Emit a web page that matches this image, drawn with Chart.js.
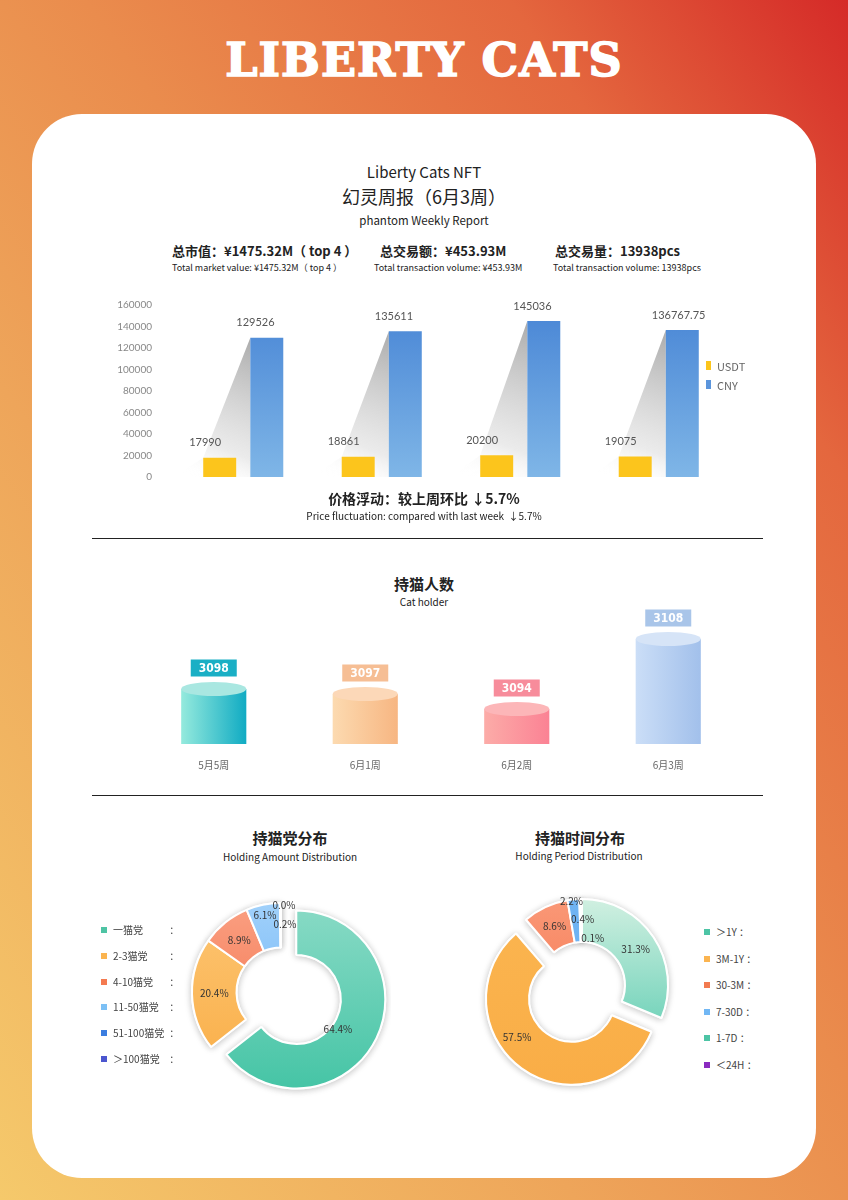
<!DOCTYPE html>
<html lang="zh">
<head>
<meta charset="utf-8">
<title>Liberty Cats 幻灵周报</title>
<script src="https://cdn.jsdelivr.net/npm/chart.js@4.4.1/dist/chart.umd.min.js"></script>
<style>
  html, body { margin: 0; padding: 0; }
  body {
    width: 848px; height: 1200px; position: relative; overflow: hidden;
    background: linear-gradient(to bottom left, #d52a28 0%, #e4673e 20%, #ea8c4d 45%, #eea55a 66%, #f5c96b 100%);
    font-family: 'Noto Sans CJK SC', Lato, sans-serif; color: #222;
  }
  .brand {
    position: absolute; left: 0; top: 33px; width: 848px; line-height: 60px;
    text-align: center; color: #fff; font: bold 46px 'DejaVu Serif', serif; letter-spacing: 1px;
    -webkit-text-stroke: 1.5px #fff;
  }
  .card { position: absolute; left: 32px; top: 114px; width: 784px; height: 1064px; background: #fff; border-radius: 50px; }
  .t { position: absolute; white-space: nowrap; line-height: 1; }
  .c { left: 0; width: 848px; text-align: center; }
  .rule { position: absolute; left: 92px; width: 671px; height: 1px; background: #222; }
  canvas { position: absolute; }
  .lg { position: absolute; font-size: 10px; color: #444; white-space: nowrap; line-height: 12px; }
  .lg i { display: inline-block; width: 6px; height: 6px; margin-right: 6px; vertical-align: 1px; }
  .lg b { display: inline-block; font-weight: normal; }
</style>
</head>
<body>
<div class="brand">LIBERTY CATS</div>
<div class="card"></div>

<div class="t c" style="top:164px;font-size:15px;">Liberty Cats NFT</div>
<div class="t c" style="top:187px;font-size:18px;">幻灵周报（6月3周）</div>
<div class="t c" style="top:215px;font-size:11.5px;">phantom Weekly Report</div>

<div class="t" style="left:172px;top:244px;font-size:13px;font-weight:bold;">总市值：¥1475.32M（ top 4 ）</div>
<div class="t" style="left:380px;top:244px;font-size:13px;font-weight:bold;">总交易额：¥453.93M</div>
<div class="t" style="left:555px;top:244px;font-size:13px;font-weight:bold;">总交易量：13938pcs</div>
<div class="t" style="left:172px;top:263px;font-size:9px;">Total market value: ¥1475.32M（ top 4 ）</div>
<div class="t" style="left:374px;top:263px;font-size:9px;">Total transaction volume: ¥453.93M</div>
<div class="t" style="left:553px;top:263px;font-size:9px;">Total transaction volume: 13938pcs</div>

<canvas id="volumeChart" width="630" height="228" style="left:110px;top:277px;"></canvas>
<div class="lg" style="left:706px;top:360px;font-size:11px;color:#666;"><i style="background:#fcc51c;width:5px;height:9px;"></i>USDT</div>
<div class="lg" style="left:706px;top:379px;font-size:11px;color:#666;"><i style="background:#5b95dc;width:5px;height:9px;"></i>CNY</div>

<div class="t c" style="top:491px;font-size:14px;font-weight:bold;">价格浮动：较上周环比 ↓5.7%</div>
<div class="t c" style="top:511px;font-size:10px;">Price fluctuation: compared with last week &nbsp;↓5.7%</div>

<div class="rule" style="top:538px;"></div>

<div class="t c" style="top:576px;font-size:15px;font-weight:bold;">持猫人数</div>
<div class="t c" style="top:597px;font-size:10px;">Cat holder</div>

<canvas id="holderChart" width="620" height="180" style="left:130px;top:600px;"></canvas>

<div class="rule" style="top:795px;"></div>

<div class="t" style="left:190px;width:200px;text-align:center;top:830px;font-size:15px;font-weight:bold;">持猫党分布</div>
<div class="t" style="left:190px;width:200px;text-align:center;top:852px;font-size:10px;">Holding Amount Distribution</div>
<div class="t" style="left:480px;width:200px;text-align:center;top:830px;font-size:15px;font-weight:bold;">持猫时间分布</div>
<div class="t" style="left:479px;width:200px;text-align:center;top:851px;font-size:10px;">Holding Period Distribution</div>

<canvas id="amountChart" width="220" height="220" style="left:171px;top:882px;"></canvas>
<canvas id="periodChart" width="220" height="220" style="left:472px;top:875px;"></canvas>
<div id="amountLegend"></div>
<div id="periodLegend"></div>

<script>
// ---- data ----
const weekLabels = ['5月5周', '6月1周', '6月2周', '6月3周'];
const usdtVolume = [17990, 18861, 20200, 19075];
const cnyVolume = [129526, 135611, 145036, 136767.75];
const volumeAxis = { min: 0, max: 160000, step: 20000 };

const holderCounts = [3098, 3097, 3094, 3108];
const holderAxis = { min: 3087, max: 3112 };

const amountLabels = ['一猫党', '2-3猫党', '4-10猫党', '11-50猫党', '51-100猫党', '＞100猫党'];
const amountShares = [64.4, 20.4, 8.9, 6.1, 0.2, 0.0];

const periodLabels = ['＞1Y', '3M-1Y', '30-3M', '7-30D', '1-7D', '＜24H'];
const periodShares = [31.3, 57.5, 8.6, 2.2, 0.4, 0.1];

// ---- colours ----
const cylinderSide = [['#95eadd', '#10abc3'], ['#fcdab0', '#f7b682'], ['#fcaca8', '#fb8294'], ['#cbdef7', '#a2c0eb']];
const cylinderTop = ['#a9e7e1', '#fcd8b8', '#fcb6b8', '#d6e4f7'];
const tagColors = ['#1aafc5', '#f6be94', '#f78c9b', '#a9c5e9'];

const amountColors = [['#8edcc8', '#3ec2a2'], ['#fdc878', '#f9ab42'], ['#fba68a', '#f1643a'], ['#a8d5fb', '#58a7f4'], '#3b7de0', '#4c56cf'];
const amountLegendColors = ['#4ec4a4', '#fbb44f', '#f47a50', '#7cc0f5', '#3b7de0', '#4c56cf'];
const periodColors = [['#e2f5e8', '#3fc3a5'], ['#fbb651', '#f9ac45'], ['#fb9e7e', '#f2683e'], '#6fb3f3', '#dcf1e6', '#8b2fc9'];
const periodLegendColors = ['#4dc4a5', '#fbb450', '#f27a50', '#71b7f4', '#4dc4a5', '#8a2bc0'];

Chart.defaults.font.family = "'Noto Sans CJK SC', Lato, sans-serif";
Chart.defaults.animation = false;

// vertical gradient over the chart area, one colour pair per data point
function sliceFill(list) {
    return c => {
        const col = list[c.dataIndex];
        if (typeof col === 'string') return col;
        const area = c.chart.chartArea;
        if (!area) return col[1];
        const g = c.chart.ctx.createLinearGradient(0, area.top, 0, area.bottom);
        g.addColorStop(0, col[0]);
        g.addColorStop(1, col[1]);
        return g;
    };
}

function vGradient(top, bottom) {
    return c => {
        const area = c.chart.chartArea;
        if (!area) return bottom;
        const g = c.chart.ctx.createLinearGradient(0, area.top, 0, area.bottom);
        g.addColorStop(0, top);
        g.addColorStop(1, bottom);
        return g;
    };
}

// gray wedge between the USDT and CNY bars + value labels
const wedgeShadow = {
    id: 'wedgeShadow',
    beforeDatasetsDraw(chart) {
        const ctx = chart.ctx;
        const high = chart.getDatasetMeta(1).data;
        chart.getDatasetMeta(0).data.forEach((u, i) => {
            const c = high[i];
            const uLeft = u.x - u.width / 2;
            const cLeft = c.x - c.width / 2;
            const g = ctx.createLinearGradient(cLeft, c.y, uLeft - 10, u.base);
            g.addColorStop(0, 'rgba(150,150,150,0.8)');
            g.addColorStop(0.75, 'rgba(215,215,215,0.5)');
            g.addColorStop(1, 'rgba(255,255,255,0)');
            ctx.save();
            ctx.beginPath();
            ctx.moveTo(uLeft - 30, u.base);
            ctx.lineTo(uLeft, u.y);
            ctx.lineTo(cLeft, c.y);
            ctx.lineTo(cLeft, c.base);
            ctx.closePath();
            ctx.fillStyle = g;
            ctx.fill();
            ctx.restore();
        });
    },
    afterDatasetsDraw(chart) {
        const ctx = chart.ctx;
        ctx.save();
        ctx.font = "11px Lato, sans-serif";
        ctx.fillStyle = '#555';
        ctx.textBaseline = 'middle';
        chart.data.datasets.forEach((ds, d) => {
            chart.getDatasetMeta(d).data.forEach((bar, i) => {
                ctx.fillText(String(ds.data[i]), bar.x - bar.width / 2 - 14, bar.y - 15);
            });
        });
        ctx.restore();
    }
};

// ellipses, floor shadow and value tags of the cylinders
const cylinderFaces = {
    id: 'cylinderFaces',
    afterDatasetsDraw(chart) {
        const ctx = chart.ctx;
        const values = chart.data.datasets[0].data;
        const bars = chart.getDatasetMeta(0).data;
        bars.forEach((bar, i) => {
            const rx = bar.width / 2, ry = 7;
            ctx.save();
            ctx.fillStyle = bar.options.backgroundColor;
            ctx.beginPath();
            ctx.ellipse(bar.x, bar.base, rx, ry, 0, 0, Math.PI);
            ctx.fill();
            ctx.fillStyle = cylinderTop[i];
            ctx.beginPath();
            ctx.ellipse(bar.x, bar.y, rx, ry, 0, 0, Math.PI * 2);
            ctx.fill();
            const tagW = 46, tagH = 17, cy = bar.y - ry - 14;
            ctx.fillStyle = tagColors[i];
            ctx.fillRect(bar.x - tagW / 2, cy - tagH / 2, tagW, tagH);
            ctx.fillStyle = '#fff';
            ctx.font = "bold 12px 'Liberation Sans Narrow', 'DejaVu Sans Condensed', sans-serif";
            ctx.textAlign = 'center';
            ctx.textBaseline = 'middle';
            ctx.fillText(String(values[i]), bar.x, cy + 1);
            ctx.restore();
        });
        // soft gray floor shadow to the right, slid in behind the cylinders
        bars.forEach(bar => {
            const right = bar.x + bar.width / 2;
            const g = ctx.createLinearGradient(right, 0, right + 44, 0);
            g.addColorStop(0, 'rgba(120,120,120,0.45)');
            g.addColorStop(1, 'rgba(120,120,120,0)');
            ctx.save();
            ctx.globalCompositeOperation = 'destination-over';
            ctx.fillStyle = g;
            ctx.beginPath();
            ctx.moveTo(right - 6, bar.base + 6);
            ctx.lineTo(right - 6, bar.base - 20);
            ctx.lineTo(right + 44, bar.base - 16);
            ctx.lineTo(right + 22, bar.base + 5);
            ctx.closePath();
            ctx.fill();
            ctx.restore();
        });
    }
};

// draws the donut slices itself so one slice can be pulled out, with a soft shadow
const explodedDonut = {
    id: 'explodedDonut',
    beforeDatasetDraw(chart, args, opts) {
        const ctx = chart.ctx;
        const arcs = args.meta.data;
        const pass = withShadow => arcs.forEach((arc, i) => {
            const mid = (arc.startAngle + arc.endAngle) / 2;
            const off = opts.explode[i] || 0;
            ctx.save();
            if (withShadow) {
                ctx.shadowColor = 'rgba(0,0,0,0.22)';
                ctx.shadowBlur = 7;
                ctx.shadowOffsetY = 1;
            }
            ctx.translate(Math.cos(mid) * off, Math.sin(mid) * off);
            arc.draw(ctx);
            ctx.restore();
        });
        pass(true);
        pass(false);

        // percentage labels
        const values = chart.data.datasets[0].data;
        ctx.save();
        ctx.font = "10px 'Noto Sans CJK SC', Lato, sans-serif";
        ctx.fillStyle = '#333';
        ctx.textAlign = 'center';
        ctx.textBaseline = 'middle';
        arcs.forEach((arc, i) => {
            const mid = (arc.startAngle + arc.endAngle) / 2;
            const off = opts.explode[i] || 0;
            const tw = opts.labelTweak[i] || [0, 1];
            const a = mid + tw[0] * Math.PI / 180;
            const r = (arc.innerRadius + arc.outerRadius) / 2 * tw[1];
            const x = arc.x + Math.cos(mid) * off + Math.cos(a) * r;
            const y = arc.y + Math.sin(mid) * off + Math.sin(a) * r;
            ctx.fillText(values[i].toFixed(1) + '%', x, y);
        });
        ctx.restore();
        return false;
    }
};

function buildVolumeChart() {
    new Chart(document.getElementById('volumeChart'), {
        type: 'bar',
        data: {
            labels: weekLabels,
            datasets: [
                { label: 'USDT', data: usdtVolume, backgroundColor: '#fcc51c' },
                { label: 'CNY', data: cnyVolume, backgroundColor: vGradient('#4885d5', '#7fb6e7') }
            ]
        },
        options: {
            responsive: false,
            categoryPercentage: 0.68,
            barPercentage: 0.7,
            layout: { padding: { top: 0, right: 12, bottom: 0, left: 0 } },
            plugins: { legend: { display: false }, tooltip: { enabled: false } },
            scales: {
                x: { display: false },
                y: {
                    min: volumeAxis.min,
                    max: volumeAxis.max,
                    afterFit: s => { s.width = 64; },
                    ticks: {
                        stepSize: volumeAxis.step, padding: 22, color: '#888',
                        font: { size: 10, family: 'Lato' },
                        callback: v => String(v)
                    },
                    grid: { display: false, drawTicks: false },
                    border: { display: false }
                }
            }
        },
        plugins: [wedgeShadow]
    });
}

function buildHolderChart() {
    new Chart(document.getElementById('holderChart'), {
        type: 'bar',
        data: {
            labels: weekLabels,
            datasets: [{
                data: holderCounts,
                backgroundColor: c => {
                    const { chart, dataIndex } = c;
                    const cols = cylinderSide[dataIndex];
                    if (!chart.chartArea) return cols[1];
                    const x = chart.scales.x.getPixelForValue(dataIndex);
                    const half = chart.scales.x.width / weekLabels.length * 0.43 / 2;
                    const g = chart.ctx.createLinearGradient(x - half, 0, x + half, 0);
                    g.addColorStop(0, cols[0]);
                    g.addColorStop(1, cols[1]);
                    return g;
                }
            }]
        },
        options: {
            responsive: false,
            categoryPercentage: 1,
            barPercentage: 0.43,
            layout: { padding: { top: 19, right: 6, bottom: 0, left: 8 } },
            plugins: { legend: { display: false }, tooltip: { enabled: false } },
            scales: {
                x: {
                    afterFit: s => { s.height = 36; },
                    ticks: { padding: 15, color: '#666', font: { size: 10 } },
                    grid: { display: false, drawTicks: false },
                    border: { display: false }
                },
                y: { display: false, min: holderAxis.min, max: holderAxis.max }
            }
        },
        plugins: [cylinderFaces]
    });
}

function buildDonut(id, labels, values, colors, radius, explode, labelTweak) {
    new Chart(document.getElementById(id), {
        type: 'doughnut',
        data: {
            labels: labels,
            datasets: [{
                data: values,
                backgroundColor: sliceFill(colors),
                borderColor: '#fff',
                borderWidth: 2
            }]
        },
        options: {
            responsive: false,
            radius: radius,
            cutout: '50%',
            plugins: {
                legend: { display: false },
                tooltip: { enabled: false },
                explodedDonut: { explode: explode, labelTweak: labelTweak }
            }
        },
        plugins: [explodedDonut]
    });
}

function buildLegend(id, labels, colors, left, top, step, labelWidth) {
    const box = document.getElementById(id);
    labels.forEach((name, i) => {
        const row = document.createElement('div');
        row.className = 'lg';
        row.style.left = left + 'px';
        row.style.top = (top + i * step) + 'px';
        const w = labelWidth ? `style="width:${labelWidth}px"` : '';
        row.innerHTML = `<i style="background:${colors[i]}"></i><b ${w}>${name}</b> ：`;
        box.appendChild(row);
    });
}

document.addEventListener('DOMContentLoaded', () => {
    buildVolumeChart();
    buildHolderChart();
    buildDonut('amountChart', amountLabels, amountShares, amountColors, 89,
        [17, 0, 0, 0, 0, 0],
        [[10, 0.77], [0, 1], [0, 1], [0, 1.18], [3.7, 1.02], [2, 1.3]]);
    buildDonut('periodChart', periodLabels, periodShares, periodColors, 86,
        [0, 17, 0, 0, 0, 0],
        [[0, 1], [19, 1.04], [0, 1], [-1.4, 1.31], [1.6, 1.02], [13, 0.75]]);
    buildLegend('amountLegend', amountLabels, amountLegendColors, 101, 924, 25.8, 54);
    buildLegend('periodLegend', periodLabels, periodLegendColors, 704, 926, 26.5, 0);
});
</script>
</body>
</html>
